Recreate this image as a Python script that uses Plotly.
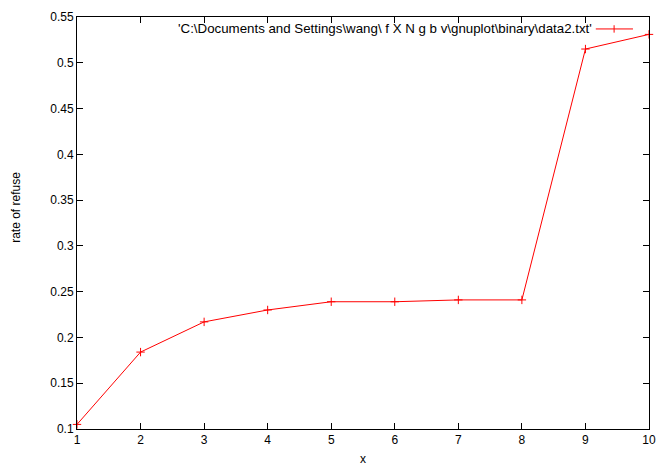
import plotly.graph_objects as go

x_vals = [1, 2, 3, 4, 5, 6, 7, 8, 9, 10]
rate_vals = [0.105, 0.184, 0.217, 0.230, 0.239, 0.239, 0.241, 0.241, 0.515, 0.531]
y_ticks = [0.1, 0.15, 0.2, 0.25, 0.3, 0.35, 0.4, 0.45, 0.5, 0.55]
y_tick_labels = ["0.1", "0.15", "0.2", "0.25", "0.3", "0.35", "0.4", "0.45", "0.5", "0.55"]
legend_label = "'C:\\Documents and Settings\\wang\\ f X N g b v\\gnuplot\\binary\\data2.txt'"

RED = "#ff0000"
FONT = "Liberation Sans, Arial, sans-serif"

fig = go.Figure()
fig.add_trace(go.Scatter(
    x=x_vals, y=rate_vals, mode="lines+markers",
    line=dict(color=RED, width=1),
    marker=dict(symbol="cross-thin-open", size=6, color=RED, line=dict(color=RED, width=1)),
    showlegend=False, cliponaxis=False, hoverinfo="skip",
))

axis_common = dict(
    showline=True, linecolor="black", linewidth=1, mirror="ticks",
    ticks="inside", ticklen=6, tickcolor="black", tickwidth=1,
    showgrid=False, zeroline=False, automargin=False,
    tickfont=dict(family=FONT, size=12, color="black"),
)

fig.update_layout(
    width=656, height=466,
    margin=dict(l=77, r=7, t=17, b=37, autoexpand=False),
    plot_bgcolor="white", paper_bgcolor="white",
    font=dict(family=FONT, size=12, color="black"),
    xaxis=dict(range=[1, 10], tickvals=x_vals, ticktext=[str(v) for v in x_vals], **axis_common),
    yaxis=dict(range=[0.1, 0.55], tickvals=y_ticks, ticktext=y_tick_labels, **axis_common),
)

# Axis titles
fig.add_annotation(xref="paper", yref="paper", x=0.5, y=-0.072, xanchor="center", yanchor="middle",
                   text="x", showarrow=False, font=dict(family=FONT, size=12, color="black"))
fig.add_annotation(xref="paper", yref="paper", x=-0.1065, y=0.537, xanchor="center", yanchor="middle",
                   text="rate of refuse", textangle=-90, showarrow=False,
                   font=dict(family=FONT, size=12, color="black"))

# Key (gnuplot style: text then sample line)
fig.add_annotation(xref="paper", yref="paper", x=0.904, y=0.971, xanchor="right", yanchor="middle",
                   text=legend_label, showarrow=False, font=dict(family=FONT, size=13.3, color="black"))
fig.add_shape(type="line", xref="paper", yref="paper", x0=0.907, x1=0.972, y0=0.971, y1=0.971,
              line=dict(color=RED, width=1))
fig.add_shape(type="line", xref="paper", yref="paper", x0=0.939, x1=0.939, y0=0.962, y1=0.980,
              line=dict(color=RED, width=1))

fig.write_html("out.html", config={"displayModeBar": False},
               post_script="document.body.style.margin='0';document.body.style.overflow='hidden';")
